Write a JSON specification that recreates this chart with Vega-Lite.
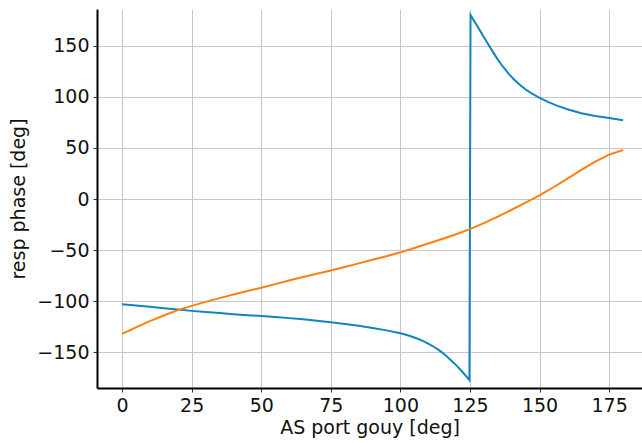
{
  "$schema": "https://vega.github.io/schema/vega-lite/v6.json",
  "autosize": "none",
  "width": 545,
  "height": 379,
  "padding": {"left": 97, "top": 9, "right": 0, "bottom": 55},
  "background": "white",
  "config": {
    "view": {"stroke": null},
    "font": "DejaVu Sans",
    "axis": {
      "labelFont": "DejaVu Sans",
      "titleFont": "DejaVu Sans",
      "labelFontSize": 19,
      "titleFontSize": 19,
      "labelColor": "#111",
      "titleColor": "#111",
      "titleFontWeight": "normal",
      "gridColor": "#c8c8c8",
      "gridWidth": 1,
      "domainColor": "#000",
      "domainWidth": 2,
      "tickColor": "#333",
      "tickSize": 4,
      "tickWidth": 1,
      "labelPadding": 4
    }
  },
  "datasets": {
    "phase": [
      {"gouy": 0, "phase": -103, "series": "a", "ord": 0},
      {"gouy": 5, "phase": -104.2, "series": "a", "ord": 1},
      {"gouy": 10, "phase": -105.5, "series": "a", "ord": 2},
      {"gouy": 15, "phase": -106.9, "series": "a", "ord": 3},
      {"gouy": 20, "phase": -108.2, "series": "a", "ord": 4},
      {"gouy": 25, "phase": -109.5, "series": "a", "ord": 5},
      {"gouy": 30, "phase": -110.6, "series": "a", "ord": 6},
      {"gouy": 35, "phase": -111.7, "series": "a", "ord": 7},
      {"gouy": 40, "phase": -112.7, "series": "a", "ord": 8},
      {"gouy": 45, "phase": -113.7, "series": "a", "ord": 9},
      {"gouy": 50, "phase": -114.6, "series": "a", "ord": 10},
      {"gouy": 55, "phase": -115.5, "series": "a", "ord": 11},
      {"gouy": 60, "phase": -116.6, "series": "a", "ord": 12},
      {"gouy": 65, "phase": -117.8, "series": "a", "ord": 13},
      {"gouy": 70, "phase": -119.1, "series": "a", "ord": 14},
      {"gouy": 75, "phase": -120.6, "series": "a", "ord": 15},
      {"gouy": 80, "phase": -122.3, "series": "a", "ord": 16},
      {"gouy": 85, "phase": -124.1, "series": "a", "ord": 17},
      {"gouy": 90, "phase": -126.2, "series": "a", "ord": 18},
      {"gouy": 95, "phase": -128.6, "series": "a", "ord": 19},
      {"gouy": 100, "phase": -131.4, "series": "a", "ord": 20},
      {"gouy": 102, "phase": -132.9, "series": "a", "ord": 21},
      {"gouy": 104, "phase": -134.6, "series": "a", "ord": 22},
      {"gouy": 106, "phase": -136.5, "series": "a", "ord": 23},
      {"gouy": 108, "phase": -138.8, "series": "a", "ord": 24},
      {"gouy": 110, "phase": -141.5, "series": "a", "ord": 25},
      {"gouy": 112, "phase": -144.6, "series": "a", "ord": 26},
      {"gouy": 114, "phase": -148.2, "series": "a", "ord": 27},
      {"gouy": 116, "phase": -152.4, "series": "a", "ord": 28},
      {"gouy": 118, "phase": -157.3, "series": "a", "ord": 29},
      {"gouy": 120, "phase": -162.6, "series": "a", "ord": 30},
      {"gouy": 122, "phase": -168.4, "series": "a", "ord": 31},
      {"gouy": 124, "phase": -174.6, "series": "a", "ord": 32},
      {"gouy": 124.8, "phase": -177.3, "series": "a", "ord": 33},
      {"gouy": 125.2, "phase": 180, "series": "a", "ord": 34},
      {"gouy": 127, "phase": 172, "series": "a", "ord": 35},
      {"gouy": 129, "phase": 163, "series": "a", "ord": 36},
      {"gouy": 131, "phase": 154, "series": "a", "ord": 37},
      {"gouy": 133, "phase": 145, "series": "a", "ord": 38},
      {"gouy": 135, "phase": 136.5, "series": "a", "ord": 39},
      {"gouy": 137, "phase": 129, "series": "a", "ord": 40},
      {"gouy": 139, "phase": 122.2, "series": "a", "ord": 41},
      {"gouy": 141, "phase": 116.5, "series": "a", "ord": 42},
      {"gouy": 143, "phase": 111.5, "series": "a", "ord": 43},
      {"gouy": 145, "phase": 107.2, "series": "a", "ord": 44},
      {"gouy": 147, "phase": 103.6, "series": "a", "ord": 45},
      {"gouy": 150, "phase": 99, "series": "a", "ord": 46},
      {"gouy": 153, "phase": 95, "series": "a", "ord": 47},
      {"gouy": 156, "phase": 91.6, "series": "a", "ord": 48},
      {"gouy": 160, "phase": 87.8, "series": "a", "ord": 49},
      {"gouy": 165, "phase": 84, "series": "a", "ord": 50},
      {"gouy": 170, "phase": 81.3, "series": "a", "ord": 51},
      {"gouy": 175, "phase": 79.3, "series": "a", "ord": 52},
      {"gouy": 180, "phase": 77.2, "series": "a", "ord": 53},
      {"gouy": 0, "phase": -132, "series": "b", "ord": 0},
      {"gouy": 5, "phase": -125.6, "series": "b", "ord": 1},
      {"gouy": 10, "phase": -119.6, "series": "b", "ord": 2},
      {"gouy": 15, "phase": -114, "series": "b", "ord": 3},
      {"gouy": 20, "phase": -108.8, "series": "b", "ord": 4},
      {"gouy": 25, "phase": -104.6, "series": "b", "ord": 5},
      {"gouy": 30, "phase": -100.7, "series": "b", "ord": 6},
      {"gouy": 35, "phase": -97, "series": "b", "ord": 7},
      {"gouy": 40, "phase": -93.5, "series": "b", "ord": 8},
      {"gouy": 45, "phase": -90.1, "series": "b", "ord": 9},
      {"gouy": 50, "phase": -86.8, "series": "b", "ord": 10},
      {"gouy": 55, "phase": -83.3, "series": "b", "ord": 11},
      {"gouy": 60, "phase": -79.7, "series": "b", "ord": 12},
      {"gouy": 65, "phase": -76.4, "series": "b", "ord": 13},
      {"gouy": 70, "phase": -73.2, "series": "b", "ord": 14},
      {"gouy": 75, "phase": -70, "series": "b", "ord": 15},
      {"gouy": 80, "phase": -66.5, "series": "b", "ord": 16},
      {"gouy": 85, "phase": -63, "series": "b", "ord": 17},
      {"gouy": 90, "phase": -59.5, "series": "b", "ord": 18},
      {"gouy": 95, "phase": -56, "series": "b", "ord": 19},
      {"gouy": 100, "phase": -52.2, "series": "b", "ord": 20},
      {"gouy": 105, "phase": -48, "series": "b", "ord": 21},
      {"gouy": 110, "phase": -43.6, "series": "b", "ord": 22},
      {"gouy": 115, "phase": -39.1, "series": "b", "ord": 23},
      {"gouy": 120, "phase": -34.5, "series": "b", "ord": 24},
      {"gouy": 125, "phase": -29.5, "series": "b", "ord": 25},
      {"gouy": 130, "phase": -23.6, "series": "b", "ord": 26},
      {"gouy": 135, "phase": -17.2, "series": "b", "ord": 27},
      {"gouy": 140, "phase": -10.5, "series": "b", "ord": 28},
      {"gouy": 145, "phase": -3.5, "series": "b", "ord": 29},
      {"gouy": 150, "phase": 3.5, "series": "b", "ord": 30},
      {"gouy": 155, "phase": 11.5, "series": "b", "ord": 31},
      {"gouy": 160, "phase": 20, "series": "b", "ord": 32},
      {"gouy": 165, "phase": 28.5, "series": "b", "ord": 33},
      {"gouy": 170, "phase": 36.5, "series": "b", "ord": 34},
      {"gouy": 175, "phase": 43.5, "series": "b", "ord": 35},
      {"gouy": 180, "phase": 48, "series": "b", "ord": 36}
    ]
  },
  "layer": [
    {
      "data": {"name": "phase"},
      "mark": {"type": "line", "strokeWidth": 2, "clip": true},
      "encoding": {
        "x": {
          "field": "gouy",
          "type": "quantitative",
          "scale": {"domain": [-9, 186.8], "nice": false, "zero": false},
          "axis": {"values": [0, 25, 50, 75, 100, 125, 150, 175], "title": "AS port gouy [deg]", "titlePadding": 3}
        },
        "y": {
          "field": "phase",
          "type": "quantitative",
          "scale": {"domain": [-185, 186], "nice": false, "zero": false},
          "axis": {"values": [-150, -100, -50, 0, 50, 100, 150], "title": "resp phase [deg]", "titlePadding": 8}
        },
        "color": {
          "field": "series",
          "type": "nominal",
          "scale": {"domain": ["a", "b"], "range": ["#0f84c0", "#ff7f0e"]},
          "legend": null
        },
        "order": {"field": "ord", "type": "quantitative"}
      }
    },
    {
      "mark": {"type": "rule", "color": "#000", "strokeWidth": 2},
      "encoding": {"y": {"datum": 186}}
    }
  ]
}
